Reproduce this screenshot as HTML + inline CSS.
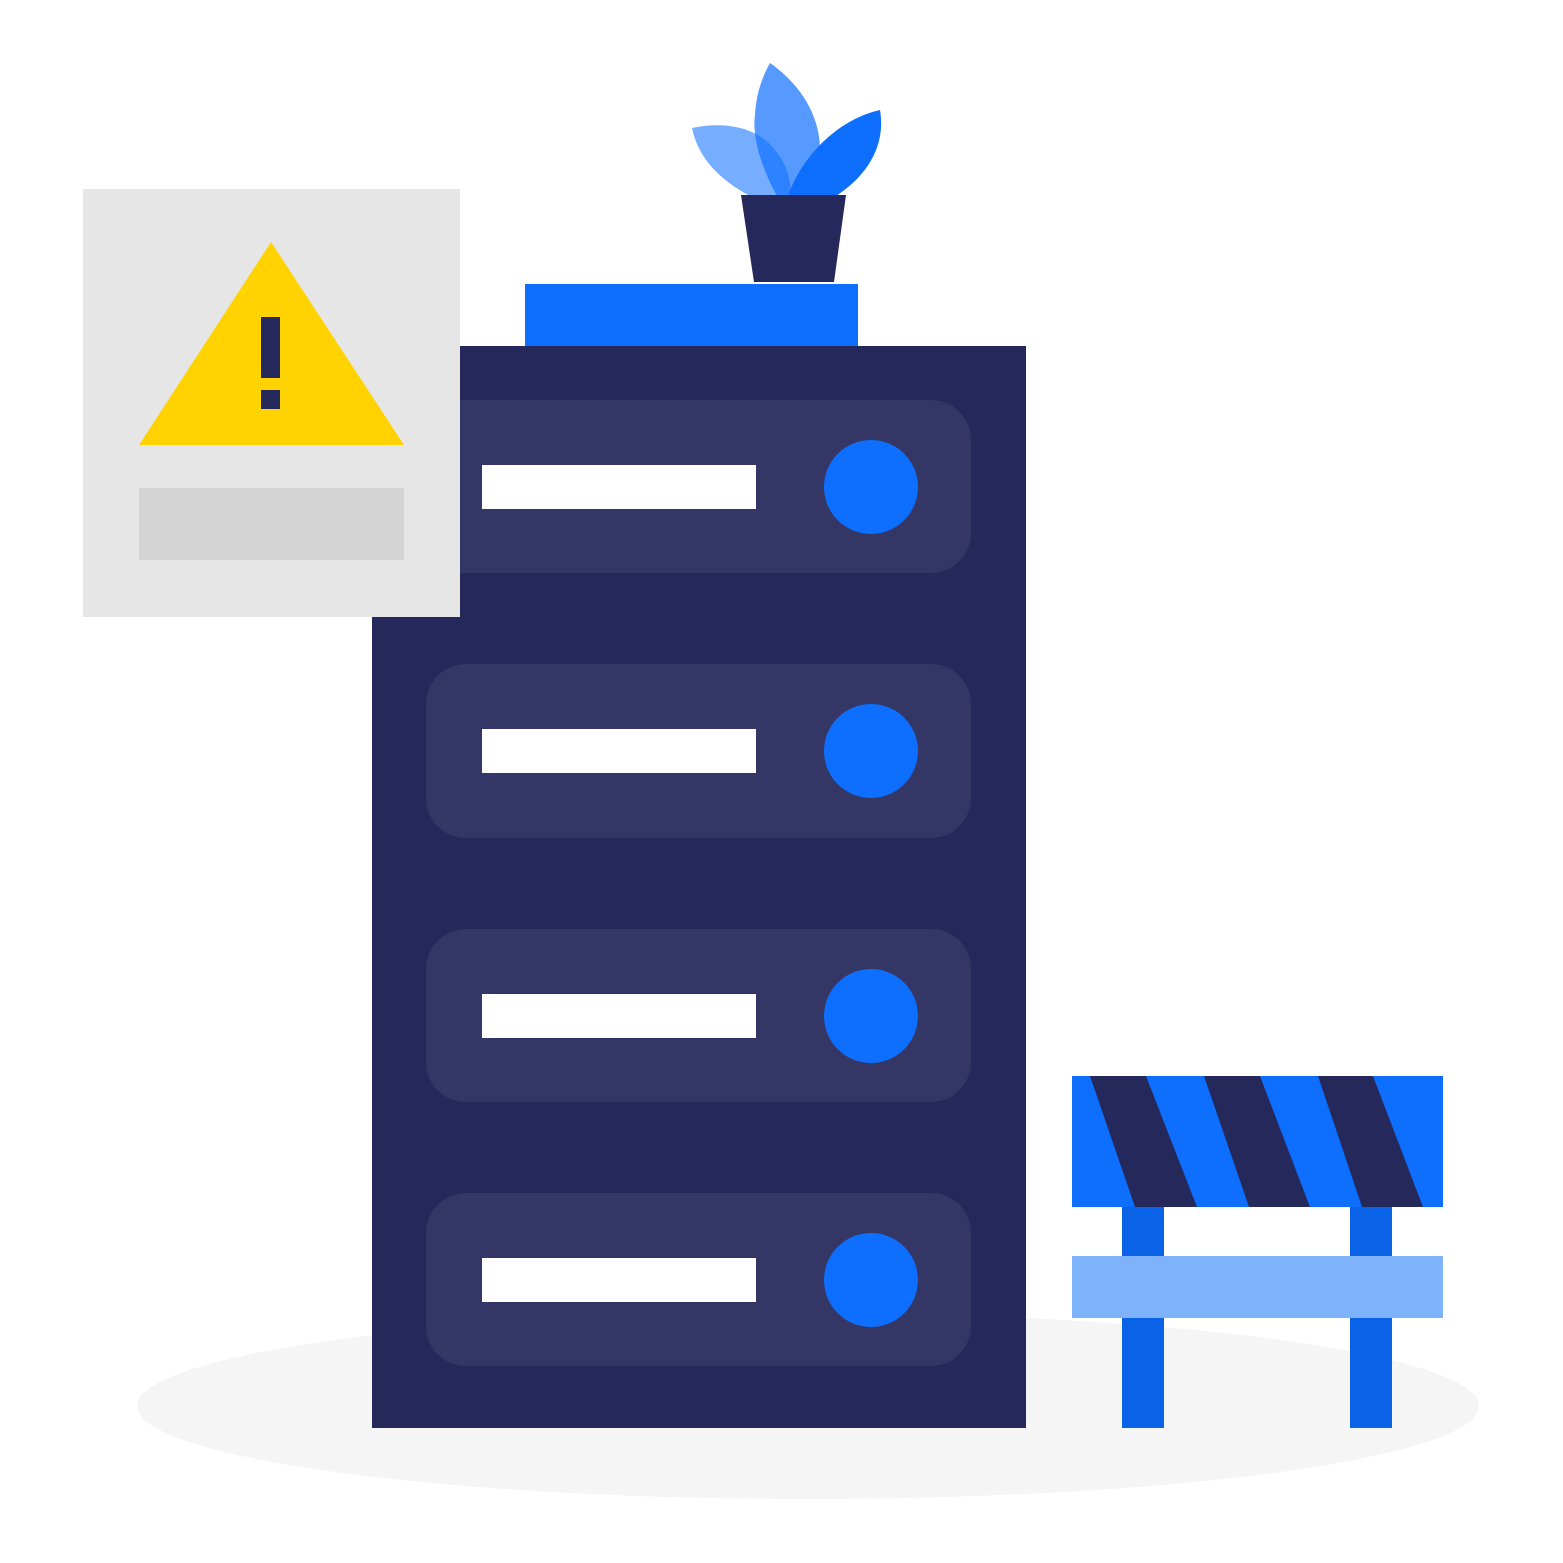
<!DOCTYPE html>
<html><head><meta charset="utf-8"><style>html,body{margin:0;padding:0;background:#fff}svg{display:block}</style></head>
<body>
<svg width="1563" height="1563" viewBox="0 0 1563 1563" xmlns="http://www.w3.org/2000/svg">
<ellipse cx="808" cy="1406" rx="671" ry="93" fill="#f5f5f5"/>
<!-- plant leaves -->
<path d="M692,128 C730,120 760,130 775,150 C788,165 792,185 790,196 L750,196 C720,180 698,158 692,128 Z" fill="#0e6fff" opacity="0.57"/>
<path d="M770,63 C800,84 820,115 820,150 C815,170 800,185 790,196 L777,196 C760,165 752,135 755,115 C756,95 762,77 770,63 Z" fill="#0e6fff" opacity="0.7"/>
<path d="M880,110 C886,145 868,175 836,196 L788,196 C800,160 835,120 880,110 Z" fill="#0e6fff"/>
<polygon points="741,195 846,195 834,282 754,282" fill="#24285b"/>
<rect x="525" y="284" width="333" height="62" fill="#0e6fff"/>
<!-- server -->
<rect x="372" y="346" width="654" height="1082" fill="#24285b"/>
<g fill="#343666">
<rect x="426" y="400" width="545" height="173" rx="40"/>
<rect x="426" y="664" width="545" height="174" rx="40"/>
<rect x="426" y="929" width="545" height="173" rx="40"/>
<rect x="426" y="1193" width="545" height="173" rx="40"/>
</g>
<g fill="#fff">
<rect x="482" y="465" width="274" height="44"/>
<rect x="482" y="729" width="274" height="44"/>
<rect x="482" y="994" width="274" height="44"/>
<rect x="482" y="1258" width="274" height="44"/>
</g>
<g fill="#0e6fff">
<circle cx="871" cy="487" r="47"/>
<circle cx="871" cy="751" r="47"/>
<circle cx="871" cy="1016" r="47"/>
<circle cx="871" cy="1280" r="47"/>
</g>
<!-- warning card -->
<rect x="83" y="189" width="377" height="428" fill="#e6e6e6"/>
<polygon points="271,242 404,445 139,445" fill="#ffd200"/>
<rect x="261" y="317" width="19" height="61" fill="#24285b"/>
<rect x="261" y="390" width="19" height="19" fill="#24285b"/>
<rect x="139" y="488" width="265" height="72" fill="#d4d4d4"/>
<!-- barrier -->
<rect x="1122" y="1207" width="42" height="221" fill="#0a63e6"/>
<rect x="1350" y="1207" width="42" height="221" fill="#0a63e6"/>
<rect x="1072" y="1076" width="371" height="131" fill="#0e6fff"/>
<g fill="#24285b">
<polygon points="1090,1076 1146,1076 1197,1207 1135,1207"/>
<polygon points="1204,1076 1260,1076 1310,1207 1249,1207"/>
<polygon points="1318,1076 1373,1076 1423,1207 1362,1207"/>
</g>
<rect x="1072" y="1256" width="371" height="62" fill="#7eb2fb"/>
</svg>
</body></html>
